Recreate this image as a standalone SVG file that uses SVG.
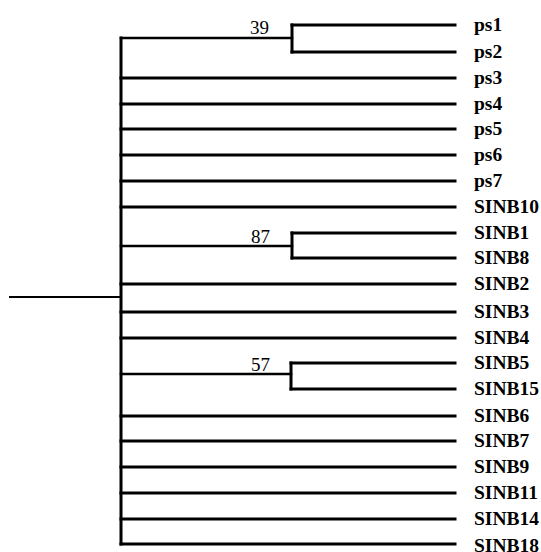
<svg xmlns="http://www.w3.org/2000/svg" width="541" height="552" viewBox="0 0 541 552">
  <style>
    .br { stroke: #000; stroke-width: 3; fill: none; stroke-linecap: square; }
    .thin { stroke-width: 2.5; }
    .root { stroke-width: 2; stroke-linecap: butt; }
    .leaf { font-family: "Liberation Serif", "Times New Roman", serif; font-weight: bold; font-size: 19.5px; fill: #000; }
    .sup { font-family: "Liberation Serif", "Times New Roman", serif; font-size: 19px; fill: #000; }
  </style>
  <rect width="541" height="552" fill="#fff"/>

  <!-- branches -->
  <g id="connectors">
    <line class="br root" x1="9" y1="297" x2="121" y2="297"/>
    <line class="br" x1="121" y1="38" x2="121" y2="544"/>
    <!-- clade ps1/ps2 -->
    <line class="br thin" x1="121" y1="38" x2="292" y2="38"/>
    <line class="br" x1="292" y1="25" x2="292" y2="52"/>
    <line class="br" x1="292" y1="25" x2="455" y2="25"/>
    <line class="br" x1="292" y1="52" x2="455" y2="52"/>
    <!-- single leaves -->
    <line class="br" x1="121" y1="78" x2="455" y2="78"/>
    <line class="br" x1="121" y1="104" x2="455" y2="104"/>
    <line class="br" x1="121" y1="129" x2="455" y2="129"/>
    <line class="br" x1="121" y1="155" x2="455" y2="155"/>
    <line class="br" x1="121" y1="181" x2="455" y2="181"/>
    <line class="br" x1="121" y1="207" x2="455" y2="207"/>
    <!-- clade SINB1/SINB8 -->
    <line class="br thin" x1="121" y1="246" x2="292" y2="246"/>
    <line class="br" x1="292" y1="233" x2="292" y2="258"/>
    <line class="br" x1="292" y1="233" x2="455" y2="233"/>
    <line class="br" x1="292" y1="258" x2="455" y2="258"/>
    <line class="br" x1="121" y1="284" x2="455" y2="284"/>
    <line class="br" x1="121" y1="312" x2="455" y2="312"/>
    <line class="br" x1="121" y1="338" x2="455" y2="338"/>
    <!-- clade SINB5/SINB15 -->
    <line class="br thin" x1="121" y1="374" x2="291" y2="374"/>
    <line class="br" x1="291" y1="363" x2="291" y2="389"/>
    <line class="br" x1="291" y1="363" x2="455" y2="363"/>
    <line class="br" x1="291" y1="389" x2="455" y2="389"/>
    <line class="br" x1="121" y1="416" x2="455" y2="416"/>
    <line class="br" x1="121" y1="441" x2="455" y2="441"/>
    <line class="br" x1="121" y1="467" x2="455" y2="467"/>
    <line class="br" x1="121" y1="493" x2="455" y2="493"/>
    <line class="br" x1="121" y1="519" x2="455" y2="519"/>
    <line class="br" x1="121" y1="544" x2="455" y2="544"/>
  </g>

  <!-- bootstrap support values -->
  <g id="support">
    <text class="sup" x="250" y="34">39</text>
    <text class="sup" x="251" y="243">87</text>
    <text class="sup" x="251" y="371">57</text>
  </g>

  <!-- leaf labels -->
  <g id="ps1"><text class="leaf" x="474" y="31">ps1</text></g>
  <g id="ps2"><text class="leaf" x="474" y="58">ps2</text></g>
  <g id="ps3"><text class="leaf" x="474" y="84">ps3</text></g>
  <g id="ps4"><text class="leaf" x="474" y="110">ps4</text></g>
  <g id="ps5"><text class="leaf" x="474" y="135">ps5</text></g>
  <g id="ps6"><text class="leaf" x="474" y="161">ps6</text></g>
  <g id="ps7"><text class="leaf" x="474" y="187">ps7</text></g>
  <g id="SINB10"><text class="leaf" x="474" y="213">SINB10</text></g>
  <g id="SINB1"><text class="leaf" x="474" y="239">SINB1</text></g>
  <g id="SINB8"><text class="leaf" x="474" y="264">SINB8</text></g>
  <g id="SINB2"><text class="leaf" x="474" y="290">SINB2</text></g>
  <g id="SINB3"><text class="leaf" x="474" y="318">SINB3</text></g>
  <g id="SINB4"><text class="leaf" x="474" y="344">SINB4</text></g>
  <g id="SINB5"><text class="leaf" x="474" y="369">SINB5</text></g>
  <g id="SINB15"><text class="leaf" x="474" y="395">SINB15</text></g>
  <g id="SINB6"><text class="leaf" x="474" y="422">SINB6</text></g>
  <g id="SINB7"><text class="leaf" x="474" y="447">SINB7</text></g>
  <g id="SINB9"><text class="leaf" x="474" y="473">SINB9</text></g>
  <g id="SINB11"><text class="leaf" x="474" y="499">SINB11</text></g>
  <g id="SINB14"><text class="leaf" x="474" y="525">SINB14</text></g>
  <g id="SINB18"><text class="leaf" x="474" y="552">SINB18</text></g>
</svg>
